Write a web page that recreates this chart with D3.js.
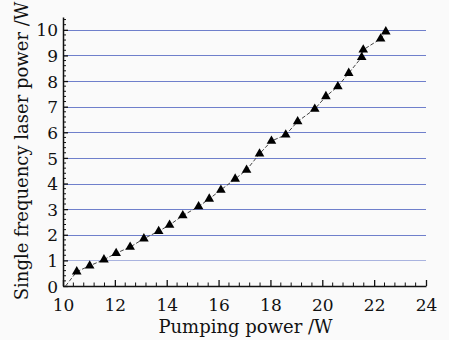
<!DOCTYPE html>
<html>
<head>
<meta charset="utf-8">
<script src="https://cdn.jsdelivr.net/npm/d3@7"></script>
<style>
  html, body { margin: 0; padding: 0; background: #fafafa; }
  svg { display: block; }
  text { font-family: "DejaVu Serif", serif; fill: #111; }
</style>
</head>
<body>
<div id="chart"></div>
<script>
// pumping power (W) and single frequency output (W)
const pumpPower = [10.1, 10.53, 11.03, 11.58, 12.05, 12.59, 13.12, 13.69, 14.11, 14.62, 15.23, 15.64,
  16.09, 16.64, 17.08, 17.58, 18.04, 18.59, 19.05, 19.71, 20.14, 20.60, 21.02, 21.52, 21.58, 22.25, 22.45];
const laserPower = [0, 0.56, 0.79, 1.03, 1.28, 1.52, 1.85, 2.14, 2.38, 2.75, 3.10, 3.40,
  3.75, 4.18, 4.53, 5.16, 5.66, 5.90, 6.42, 6.91, 7.40, 7.79, 8.31, 8.93, 9.22, 9.65, 9.93];
const xTicks = [10, 12, 14, 16, 18, 20, 22, 24];
const yTicks = [0, 1, 2, 3, 4, 5, 6, 7, 8, 9, 10];

const width = 449, height = 340;
const margin = { top: 17, right: 23, bottom: 54, left: 63 };

const svg = d3.select('#chart')
  .append('svg')
  .attr('width', width)
  .attr('height', height);

const x = d3.scaleLinear()
  .domain([10, 24])
  .range([margin.left, width - margin.right]);

const y = d3.scaleLinear()
  .domain([0, 10.5])
  .range([height - margin.bottom, margin.top]);

// blue horizontal grid lines
svg.append('g')
  .selectAll('line')
  .data(yTicks.filter(d => d > 0))
  .enter()
  .append('line')
  .attr('x1', x(10))
  .attr('x2', x(24))
  .attr('y1', d => Math.round(y(d)) + 0.5)
  .attr('y2', d => Math.round(y(d)) + 0.5)
  .attr('stroke', d => d === 1 ? '#a9b3df' : '#6f7fcb')
  .attr('stroke-width', 1.2);

// minor ticks
const xMinor = d3.range(10, 24.001, 0.4).filter(v => Math.abs(v / 2 - Math.round(v / 2)) > 1e-6);
const yMinor = d3.range(0, 10.5001, 0.2).filter(v => Math.abs(v - Math.round(v)) > 1e-6);

const xAxis = svg.append('g')
  .attr('transform', `translate(0,${y(0)})`)
  .call(d3.axisBottom(x).tickValues(xTicks).tickSizeInner(-6).tickSizeOuter(0).tickPadding(13));

xAxis.append('g')
  .selectAll('line')
  .data(xMinor)
  .enter()
  .append('line')
  .attr('x1', d => x(d))
  .attr('x2', d => x(d))
  .attr('y1', 0)
  .attr('y2', -3.5)
  .attr('stroke', '#111');

const yAxis = svg.append('g')
  .attr('transform', `translate(${x(10)},0)`)
  .call(d3.axisLeft(y).tickValues(yTicks).tickSizeInner(-5).tickSizeOuter(0).tickPadding(5));

yAxis.append('g')
  .selectAll('line')
  .data(yMinor)
  .enter()
  .append('line')
  .attr('y1', d => y(d))
  .attr('y2', d => y(d))
  .attr('x1', 0)
  .attr('x2', 3)
  .attr('stroke', '#111');

[xAxis, yAxis].forEach(a => {
  a.attr('font-family', '"DejaVu Serif", serif');
  a.select('.domain').attr('stroke', '#111').attr('stroke-width', 1.5);
  a.selectAll('.tick line').attr('stroke', '#111').attr('stroke-width', 1.3);
  a.selectAll('.tick text')
    .attr('font-size', 17)
    .attr('fill', '#111');
});
yAxis.selectAll('.tick text').attr('dy', '0.36em');

// dashed connecting line
const line = d3.line()
  .x((d, i) => x(pumpPower[i]))
  .y(d => y(d));

svg.append('path')
  .datum(laserPower)
  .attr('d', line)
  .attr('fill', 'none')
  .attr('stroke', '#444')
  .attr('stroke-width', 1)
  .attr('stroke-dasharray', '4,2');

// triangle markers
const tri = d3.symbol().type(d3.symbolTriangle).size(40);
svg.append('g')
  .selectAll('path')
  .data(laserPower.map((v, i) => ({ px: pumpPower[i], py: v })).filter(d => d.py > 0))
  .enter()
  .append('path')
  .attr('d', tri)
  .attr('transform', d => `translate(${x(d.px)},${y(d.py)})`)
  .attr('fill', '#000');

// axis titles
svg.append('text')
  .attr('x', (x(10) + x(24)) / 2 + 1)
  .attr('y', 333)
  .attr('text-anchor', 'middle')
  .attr('font-size', 18)
  .text('Pumping power /W');

svg.append('text')
  .attr('transform', `translate(28,${(y(0) + 10) / 2 + 3}) rotate(-90)`)
  .attr('text-anchor', 'middle')
  .attr('font-size', 18)
  .text('Single frequency laser power /W');
</script>
</body>
</html>
